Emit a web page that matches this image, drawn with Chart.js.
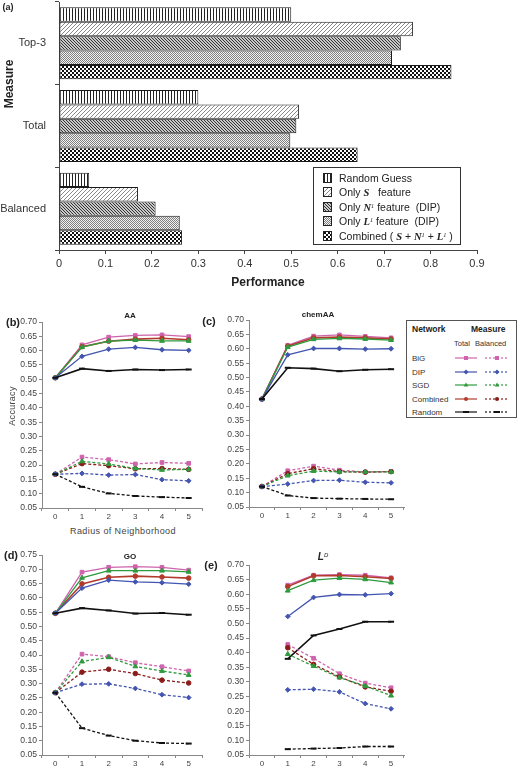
<!DOCTYPE html>
<html><head><meta charset="utf-8">
<script src="https://cdn.jsdelivr.net/npm/chart.js@4.4.1/dist/chart.umd.min.js"></script>
<style>
body{margin:0;background:#fff;}
#wrap{position:relative;width:518px;height:767px;overflow:hidden;background:#fff;font-family:"Liberation Sans",Arial,sans-serif;color:#222;}
canvas.ch{position:absolute;}
.t{position:absolute;white-space:nowrap;transform:translate(-50%,-50%);line-height:1;}
.m{font-family:"Liberation Serif","DejaVu Serif",serif;font-style:italic;font-weight:bold;}
.m sup{font-size:60%;font-weight:normal;vertical-align:0.5em;line-height:0;}
#legA{position:absolute;left:313px;top:167px;width:148px;height:78px;border:1px solid #333;box-sizing:border-box;background:#fff;font-size:10.5px;}
#legA .row{position:absolute;left:9px;height:12px;display:flex;align-items:center;}
#legA .row canvas{border:1px solid #222;width:7px;height:8px;margin-right:7px;}
#legB{position:absolute;left:406px;top:320px;width:111px;height:98px;border:1.5px solid #555;box-sizing:border-box;background:#fff;font-size:8px;color:#333;}
#legB .lab{position:absolute;left:6px;transform:translateY(-50%);white-space:nowrap;}
#legB canvas{position:absolute;left:46px;}
</style></head>
<body><div id="wrap">
<canvas class="ch" id="cA" width="518" height="300" style="left:0;top:0"></canvas>
<canvas class="ch" id="cB" width="250" height="212" style="left:0;top:312px"></canvas>
<canvas class="ch" id="cC" width="200" height="213" style="left:210px;top:310px"></canvas>
<canvas class="ch" id="cD" width="250" height="222" style="left:0;top:545px"></canvas>
<canvas class="ch" id="cE" width="200" height="222" style="left:210px;top:545px"></canvas>

<div class="t" style="left:8px;top:7px;font-size:9px;font-weight:bold">(a)</div>
<div class="t" style="left:9px;top:84px;font-size:12px;font-weight:bold;transform:translate(-50%,-50%) rotate(-90deg)">Measure</div>
<div class="t" style="left:268px;top:282px;font-size:12px;font-weight:bold">Performance</div>
<div id="legA"></div>

<div class="t" style="left:13px;top:322px;font-size:11px;font-weight:bold">(b)</div>
<div class="t" style="left:130px;top:316px;font-size:8px;font-weight:bold">AA</div>
<div class="t" style="left:12px;top:406px;font-size:9px;color:#444;letter-spacing:0.3px;transform:translate(-50%,-50%) rotate(-90deg)">Accuracy</div>
<div class="t" style="left:123px;top:531px;font-size:9px;color:#444;letter-spacing:0.4px">Radius of Neighborhood</div>

<div class="t" style="left:209px;top:321px;font-size:11px;font-weight:bold">(c)</div>
<div class="t" style="left:318px;top:315px;font-size:8px;font-weight:bold">chemAA</div>
<div id="legB"></div>

<div class="t" style="left:11px;top:555px;font-size:11px;font-weight:bold">(d)</div>
<div class="t" style="left:130px;top:557px;font-size:8px;font-weight:bold">GO</div>
<div class="t" style="left:211px;top:565px;font-size:11px;font-weight:bold">(e)</div>
<div class="t m" style="left:323px;top:557px;font-size:10px;font-family:'Liberation Sans',Arial,sans-serif">L<sup>D</sup></div>
</div>
<script>
// ---------- Panel (a) data ----------
const measures = ['Top-3', 'Total', 'Balanced'];
const randomGuess = [0.500, 0.300, 0.065];
const onlyS = [0.762, 0.517, 0.170];
const onlyN = [0.736, 0.511, 0.208];
const onlyL = [0.717, 0.498, 0.260];
const combinedSNL = [0.845, 0.643, 0.265];
const perfTicks = [0, 0.1, 0.2, 0.3, 0.4, 0.5, 0.6, 0.7, 0.8, 0.9];

// ---------- Panels (b)-(e) data ----------
const radius = ['0', '1', '2', '3', '4', '5'];
const networks = ['BiG', 'DIP', 'SGD', 'Combined', 'Random'];

// (b) AA
const aaBigT = [0.505, 0.620, 0.647, 0.653, 0.655, 0.649];
const aaDipT = [0.505, 0.580, 0.605, 0.611, 0.603, 0.601];
const aaSgdT = [0.505, 0.612, 0.633, 0.637, 0.634, 0.634];
const aaComT = [0.505, 0.614, 0.633, 0.640, 0.643, 0.638];
const aaRndT = [0.505, 0.537, 0.529, 0.534, 0.532, 0.534];
const aaBigB = [0.168, 0.228, 0.219, 0.204, 0.209, 0.206];
const aaDipB = [0.168, 0.171, 0.165, 0.167, 0.149, 0.145];
const aaSgdB = [0.168, 0.213, 0.204, 0.188, 0.183, 0.185];
const aaComB = [0.168, 0.205, 0.198, 0.187, 0.188, 0.185];
const aaRndB = [0.168, 0.124, 0.101, 0.092, 0.088, 0.085];

// (c) chemAA
const chBigT = [0.425, 0.612, 0.644, 0.648, 0.643, 0.638];
const chDipT = [0.425, 0.579, 0.601, 0.601, 0.599, 0.600];
const chSgdT = [0.425, 0.606, 0.633, 0.636, 0.634, 0.630];
const chComT = [0.425, 0.609, 0.638, 0.641, 0.638, 0.634];
const chRndT = [0.425, 0.534, 0.531, 0.522, 0.527, 0.529];
const chBigB = [0.121, 0.176, 0.192, 0.178, 0.172, 0.173];
const chDipB = [0.121, 0.130, 0.142, 0.143, 0.136, 0.134];
const chSgdB = [0.121, 0.159, 0.175, 0.172, 0.172, 0.172];
const chComB = [0.121, 0.166, 0.183, 0.173, 0.171, 0.173];
const chRndB = [0.121, 0.090, 0.081, 0.079, 0.078, 0.077];

// (d) GO
const goBigT = [0.546, 0.690, 0.707, 0.709, 0.707, 0.697];
const goDipT = [0.546, 0.634, 0.662, 0.656, 0.653, 0.648];
const goSgdT = [0.546, 0.670, 0.695, 0.695, 0.695, 0.691];
const goComT = [0.546, 0.649, 0.672, 0.676, 0.673, 0.669];
const goRndT = [0.546, 0.564, 0.556, 0.545, 0.547, 0.541];
const goBigB = [0.268, 0.403, 0.394, 0.373, 0.359, 0.344];
const goDipB = [0.268, 0.298, 0.299, 0.283, 0.261, 0.251];
const goSgdB = [0.268, 0.377, 0.392, 0.360, 0.344, 0.330];
const goComB = [0.268, 0.340, 0.350, 0.335, 0.312, 0.302];
const goRndB = [0.268, 0.144, 0.118, 0.100, 0.092, 0.090];

// (e) L^D
const ldBigT = [null, 0.631, 0.665, 0.667, 0.665, 0.656];
const ldDipT = [null, 0.524, 0.589, 0.599, 0.598, 0.602];
const ldSgdT = [null, 0.612, 0.648, 0.655, 0.651, 0.640];
const ldComT = [null, 0.626, 0.663, 0.664, 0.660, 0.654];
const ldRndT = [null, 0.379, 0.459, 0.481, 0.506, 0.506];
const ldBigB = [null, 0.428, 0.381, 0.328, 0.296, 0.280];
const ldDipB = [null, 0.273, 0.275, 0.266, 0.226, 0.208];
const ldSgdB = [null, 0.395, 0.354, 0.315, 0.286, 0.253];
const ldComB = [null, 0.417, 0.360, 0.317, 0.283, 0.268];
const ldRndB = [null, 0.070, 0.072, 0.074, 0.079, 0.079];

// ---------- styles ----------
const FONT = '"Liberation Sans", Arial, sans-serif';
Chart.defaults.font.family = FONT;
const STY = {
  BiG:      {tc:'#cf63ad', bc:'#cf63ad', ps:'rect',     r:2.6},
  DIP:      {tc:'#4355b0', bc:'#4355b0', ps:'rectRot',  r:2.4},
  SGD:      {tc:'#2f9a3e', bc:'#2f9a3e', ps:'triangle', r:2.8},
  Combined: {tc:'#b23a2c', bc:'#8a1c1a', ps:'circle',   r:2.3},
  Random:   {tc:'#111111', bc:'#111111', ps:'line',     r:3}
};

function mkPattern(w, h, draw) {
  const c = document.createElement('canvas'); c.width = w; c.height = h;
  const x = c.getContext('2d'); draw(x);
  return c;
}
const patDefs = [
  mkPattern(3,1,x=>{x.fillStyle='#fff';x.fillRect(0,0,3,1);x.fillStyle='#222';x.fillRect(0,0,1,1);}),
  mkPattern(4,4,x=>{x.fillStyle='#fff';x.fillRect(0,0,4,4);x.fillStyle='#8a8a8a';for(let i=0;i<4;i++)x.fillRect(i,3-i,1,1);}),
  mkPattern(3,3,x=>{x.fillStyle='#c8c8c8';x.fillRect(0,0,3,3);x.fillStyle='#333';for(let i=0;i<3;i++)x.fillRect(i,i,1,1);}),
  mkPattern(2,2,x=>{x.fillStyle='#f2f2f2';x.fillRect(0,0,2,2);x.fillStyle='#808080';x.fillRect(0,0,1,1);x.fillRect(1,1,1,1);}),
  mkPattern(4,4,x=>{x.fillStyle='#fff';x.fillRect(0,0,4,4);x.fillStyle='#111';x.fillRect(0,0,2,2);x.fillRect(2,2,2,2);})
];
const ctxA = document.getElementById('cA').getContext('2d');
const pats = patDefs.map(c => ctxA.createPattern(c, 'repeat'));

// ---------- Panel (a) ----------
const barSeries = [
  ['Random Guess', randomGuess],
  ['Only S feature', onlyS],
  ['Only N1 feature (DIP)', onlyN],
  ['Only L1 feature (DIP)', onlyL],
  ['Combined (S + N1 + L1)', combinedSNL]
];
new Chart(ctxA, {
  type: 'bar',
  data: {
    labels: measures,
    datasets: barSeries.map((s, i) => ({
      label: s[0], data: s[1], backgroundColor: pats[i], borderColor: '#1a1a1a',
      borderWidth: 1, borderSkipped: false, categoryPercentage: 0.87, barPercentage: 1
    }))
  },
  options: {
    indexAxis: 'y', responsive: false, animation: false, devicePixelRatio: 1,
    layout: {padding: {top: 2, right: 41, left: 0, bottom: 0}},
    plugins: {legend: {display: false}, tooltip: {enabled: false}},
    scales: {
      x: {
        min: 0, max: 0.9,
        afterBuildTicks: s => { s.ticks = perfTicks.map(v => ({value: v})); },
        ticks: {callback: v => String(Math.round(v * 10) / 10), font: {size: 11}, color: '#333', padding: 3, maxRotation: 0},
        grid: {drawOnChartArea: false, drawTicks: true, tickLength: 4, color: '#444'},
        border: {color: '#444'},
        afterFit: s => { s.height = 50; s.paddingLeft = 0; s.paddingRight = 0; }
      },
      y: {
        ticks: {font: {size: 11}, color: '#333', padding: 9},
        grid: {offset: true, drawOnChartArea: false, drawTicks: true, tickLength: 4, color: '#444'},
        border: {color: '#444'},
        afterFit: s => { s.width = 59; s.paddingTop = 0; s.paddingBottom = 0; }
      }
    }
  }
});

// legend (a)
const legA = document.getElementById('legA');
const legAText = [
  'Random Guess',
  'Only <span class="m">S</span>&nbsp;&nbsp; feature',
  'Only <span class="m">N<sup>1</sup></span> feature&nbsp; (DIP)',
  'Only <span class="m">L<sup>1</sup></span> feature&nbsp; (DIP)',
  'Combined ( <span class="m">S</span> + <span class="m">N<sup>1</sup></span> + <span class="m">L<sup>1</sup></span> )'
];
legAText.forEach((t, i) => {
  const row = document.createElement('div'); row.className = 'row';
  row.style.top = (3.5 + i * 14.6) + 'px';
  const c = document.createElement('canvas'); c.width = 7; c.height = 8;
  const cx = c.getContext('2d'); cx.fillStyle = cx.createPattern(patDefs[i], 'repeat'); cx.fillRect(0, 0, 7, 8);
  row.appendChild(c);
  const sp = document.createElement('span'); sp.innerHTML = t; row.appendChild(sp);
  legA.appendChild(row);
});

// ---------- line panels ----------
function lineChart(id, yMax, set, opt) {
  const ds = [];
  const order = ['Random', 'DIP', 'SGD', 'Combined', 'BiG'];
  order.forEach(n => {
    const st = STY[n];
    ds.push({label: n + ' Balanced', data: set[n][1], borderColor: st.bc, backgroundColor: st.bc,
      pointBackgroundColor: st.bc, pointBorderColor: st.bc, borderWidth: 1.3, borderDash: [3, 2],
      pointStyle: st.ps, pointRadius: st.r, pointBorderWidth: n === 'Random' ? 2 : 1, tension: 0});
  });
  order.forEach(n => {
    const st = STY[n];
    ds.push({label: n + ' Total', data: set[n][0], borderColor: st.tc, backgroundColor: st.tc,
      pointBackgroundColor: st.tc, pointBorderColor: st.tc, borderWidth: n === 'Combined' || n === 'Random' ? 1.6 : 1.3,
      pointStyle: st.ps, pointRadius: st.r, pointBorderWidth: n === 'Random' ? 2 : 1, tension: 0});
  });
  new Chart(document.getElementById(id), {
    type: 'line',
    data: {labels: radius, datasets: ds},
    options: {
      responsive: false, animation: false, devicePixelRatio: 1,
      layout: {padding: {top: opt.pt, right: opt.pr, left: 0, bottom: 0}},
      plugins: {legend: {display: false}, tooltip: {enabled: false}},
      scales: {
        x: {
          type: 'category', offset: true,
          ticks: {font: {size: 8}, color: '#444', padding: 1, maxRotation: 0, autoSkip: false},
          grid: {offset: true, drawOnChartArea: false, drawTicks: true, tickLength: 3, color: '#888'},
          border: {color: '#888'},
          afterFit: s => { s.height = opt.xh; s.paddingLeft = 0; s.paddingRight = 0; }
        },
        y: {
          min: 0.05, max: yMax,
          ticks: {stepSize: 0.05, callback: v => v.toFixed(2), font: {size: 8.6}, color: '#444', padding: 2},
          grid: {drawOnChartArea: false, drawTicks: true, tickLength: 3, color: '#888'},
          border: {color: '#888'},
          afterFit: s => { s.width = opt.yw; s.paddingTop = 0; s.paddingBottom = 0; }
        }
      }
    }
  });
}

lineChart('cB', 0.70, {BiG:[aaBigT,aaBigB], DIP:[aaDipT,aaDipB], SGD:[aaSgdT,aaSgdB], Combined:[aaComT,aaComB], Random:[aaRndT,aaRndB]},
  {pt: 10, pr: 48, xh: 16, yw: 42});
lineChart('cC', 0.70, {BiG:[chBigT,chBigB], DIP:[chDipT,chDipB], SGD:[chSgdT,chSgdB], Combined:[chComT,chComB], Random:[chRndT,chRndB]},
  {pt: 10, pr: 3, xh: 16, yw: 39});
lineChart('cD', 0.75, {BiG:[goBigT,goBigB], DIP:[goDipT,goDipB], SGD:[goSgdT,goSgdB], Combined:[goComT,goComB], Random:[goRndT,goRndB]},
  {pt: 10, pr: 48, xh: 12, yw: 42});
lineChart('cE', 0.70, {BiG:[ldBigT,ldBigB], DIP:[ldDipT,ldDipB], SGD:[ldSgdT,ldSgdB], Combined:[ldComT,ldComB], Random:[ldRndT,ldRndB]},
  {pt: 20, pr: 3, xh: 12, yw: 39});

// ---------- legend (c) ----------
const legB = document.getElementById('legB');
function addLab(txt, x, y, extra) {
  const d = document.createElement('div'); d.className = 'lab'; d.textContent = txt;
  d.style.left = x + 'px'; d.style.top = y + 'px'; if (extra) Object.assign(d.style, extra);
  legB.appendChild(d);
}
addLab('Network', 5, 8, {fontWeight: 'bold', fontSize: '8.5px', color: '#222'});
addLab('Measure', 64, 8, {fontWeight: 'bold', fontSize: '8.5px', color: '#222'});
addLab('Total', 47, 22, {fontSize: '7.5px'});
addLab('Balanced', 68, 22, {fontSize: '7.5px'});
function marker(x, cx, cy, st, col) {
  x.fillStyle = col; x.strokeStyle = col; x.lineWidth = 1; x.setLineDash([]);
  x.beginPath();
  if (st.ps === 'rect') { x.fillRect(cx - 2, cy - 2, 4, 4); }
  else if (st.ps === 'rectRot') { x.moveTo(cx, cy - 2.5); x.lineTo(cx + 2.5, cy); x.lineTo(cx, cy + 2.5); x.lineTo(cx - 2.5, cy); x.closePath(); x.fill(); }
  else if (st.ps === 'triangle') { x.moveTo(cx, cy - 2.6); x.lineTo(cx + 2.4, cy + 1.6); x.lineTo(cx - 2.4, cy + 1.6); x.closePath(); x.fill(); }
  else if (st.ps === 'circle') { x.arc(cx, cy, 2, 0, Math.PI * 2); x.fill(); }
  else { x.lineWidth = 2; x.moveTo(cx - 3, cy); x.lineTo(cx + 3, cy); x.stroke(); }
}
networks.forEach((n, i) => {
  const y = 37 + i * 13.5;
  addLab(n, 5, y);
  const c = document.createElement('canvas'); c.width = 60; c.height = 10;
  c.style.top = (y - 5) + 'px'; c.style.left = '46px';
  const x = c.getContext('2d'); const st = STY[n];
  x.lineWidth = 1.2; x.strokeStyle = st.tc; x.setLineDash([]);
  x.beginPath(); x.moveTo(2, 5); x.lineTo(24, 5); x.stroke();
  marker(x, 13, 5, st, st.tc);
  x.lineWidth = 1.2; x.strokeStyle = st.bc; x.setLineDash([2, 2]);
  x.beginPath(); x.moveTo(32, 5); x.lineTo(56, 5); x.stroke();
  marker(x, 44, 5, st, st.bc);
  legB.appendChild(c);
});
</script>
</body></html>
